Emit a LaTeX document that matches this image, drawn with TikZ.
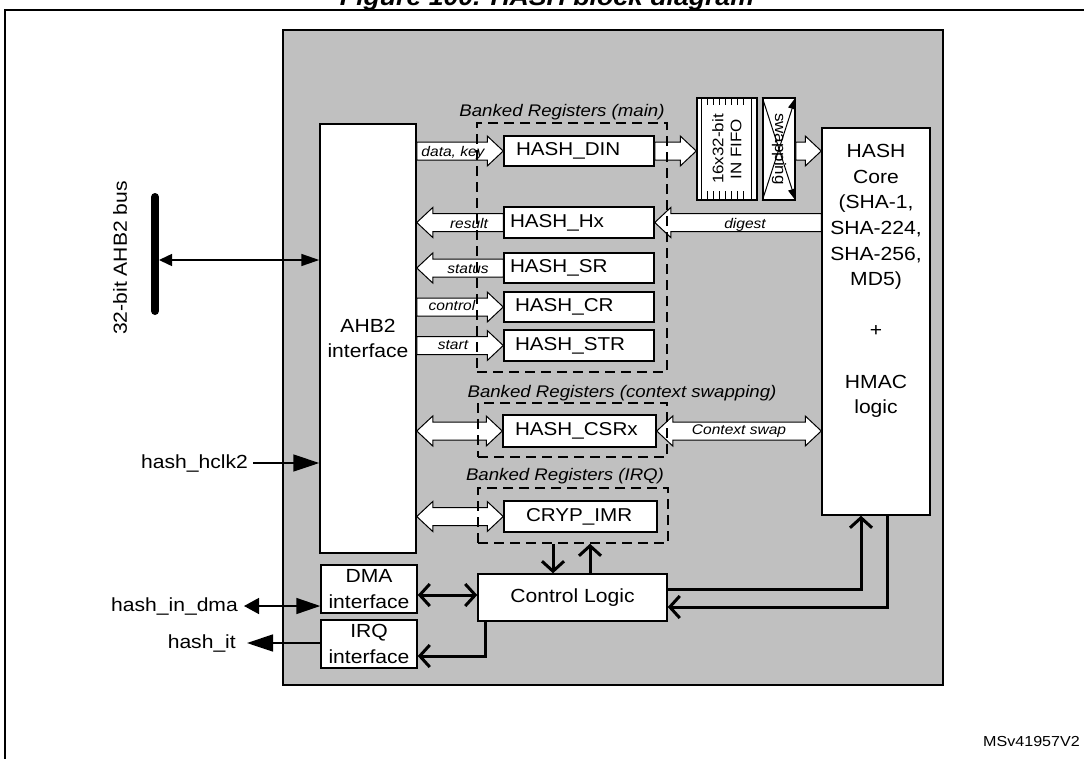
\documentclass[tikz,border=0pt]{standalone}
\usepackage{fontspec}
\setmainfont{Liberation Sans}[FakeStretch=1.11]
\usetikzlibrary{arrows.meta,calc}
\definecolor{bg}{HTML}{C0C0C0}
\newcommand\fMain{\fontsize{19}{25.6}\selectfont}
\newcommand\fReg{\fontsize{18.6}{22}\selectfont}
\newcommand\fBank{\fontsize{16.8}{20}\selectfont\itshape}
\newcommand\fSmall{\fontsize{14}{16}\selectfont\itshape}
\newcommand\fFifo{\fontsize{15.3}{18}\selectfont}
\tikzset{
  every node/.style={inner sep=0pt},
  box/.style={draw, fill=white, line width=1.5pt},
  reg/.style={box, minimum height=30pt, align=left, font=\fReg},
  dbox/.style={draw, dash pattern=on 10pt off 6pt, line width=1.5pt},
  fat/.style={draw, fill=white, line width=1pt},
  thk/.style={line width=3pt},
  barb/.tip={Straight Barb[length=10pt,width=22pt]},
  thin/.style={line width=1.5pt}
}
\newcommand\fatarrow[2]{%
  \draw[fat] let \p1=#1, \p2=#2, \n1={(\x2-\x1)/abs(\x2-\x1)} in
   (\x1,\y1+9pt) -- (\x2-\n1*16pt,\y1+9pt) -- (\x2-\n1*16pt,\y1+15pt) -- (\x2,\y1)
   -- (\x2-\n1*16pt,\y1-15pt) -- (\x2-\n1*16pt,\y1-9pt) -- (\x1,\y1-9pt) -- cycle;}
\newcommand\fatboth[2]{%
  \draw[fat] let \p1=#1, \p2=#2, \n1={(\x2-\x1)/abs(\x2-\x1)} in
   (\x1,\y1) -- (\x1+\n1*16pt,\y1+15pt) -- (\x1+\n1*16pt,\y1+9pt) -- (\x2-\n1*16pt,\y1+9pt)
   -- (\x2-\n1*16pt,\y1+15pt) -- (\x2,\y1) -- (\x2-\n1*16pt,\y1-15pt) -- (\x2-\n1*16pt,\y1-9pt)
   -- (\x1+\n1*16pt,\y1-9pt) -- (\x1+\n1*16pt,\y1-15pt) -- cycle;}
\begin{document}
\begin{tikzpicture}[x=1pt,y=-1pt]
\useasboundingbox (0,0) rectangle (1084,758);
\clip (0,0) rectangle (1084,758);
\node[anchor=base, font=\fontsize{24}{28}\selectfont\bfseries\itshape] (title) at (547,5) {Figure 100. HASH block diagram};
\draw[line width=2pt] (5,780) -- (5,10) -- (1100,10);

\node[draw, fill=bg, line width=2pt, minimum width=660pt, minimum height=655pt] (blk) at (613,357.5) {};

% main blocks
\node[box, minimum width=96pt, minimum height=429pt, align=center, font=\fMain] (ahb) at (368,338.5) {AHB2\\interface};
\node[box, minimum width=96pt, minimum height=48pt, align=center, font=\fMain] (dma) at (369,589) {DMA\\interface};
\node[box, minimum width=96pt, minimum height=48pt, align=center, font=\fMain] (irq) at (369,644) {IRQ\\interface};
\node[box, minimum width=189pt, minimum height=47pt, font=\fMain] (ctrl) at (572.5,597.5) {Control Logic};
\node[box, minimum width=108pt, minimum height=387pt] (core) at (876,321.5) {};
\node[anchor=north, align=center, font=\fMain] (coretext) at ([yshift=-17pt]core.north)
  {HASH\\Core\\(SHA-1,\\SHA-224,\\SHA-256,\\MD5)\\[25.6pt]+\\[25.6pt]HMAC\\logic};

% registers
\node[reg, text width=126pt, inner xsep=12pt] (din) at (579,151) {HASH\_DIN};
\node[reg, text width=138pt, inner xsep=6pt, minimum height=31pt] (hx) at (579,222.5) {HASH\_Hx};
\node[reg, text width=138pt, inner xsep=6pt] (sr) at (579,268) {HASH\_SR};
\node[reg, text width=128pt, inner xsep=11pt] (cr) at (579,307) {HASH\_CR};
\node[reg, text width=128pt, inner xsep=11pt, minimum height=31pt] (str) at (579,345.5) {HASH\_STR};
\node[reg, text width=129pt, inner xsep=12pt, minimum height=32pt] (csrx) at (579.5,431) {HASH\_CSRx};
\node[reg, text width=109pt, inner xsep=22pt, minimum height=31pt] (imr) at (580.5,516.5) {CRYP\_IMR};

% FIFO
\node[box, minimum width=60pt, minimum height=102pt] (fifo) at (727,149) {};
\begin{scope}[shift={(fifo.north west)}, line width=1pt]
  \draw (5,0) -- (5,102) (55,0) -- (55,102);
  \foreach \t in {11,17,23,29,35,41,47} \draw (\t,0) -- (\t,8) (\t,94) -- (\t,102);
\end{scope}
\node[rotate=90, align=center, font=\fFifo] (fifotext) at (fifo) {16x32-bit\\IN FIFO};

% swapping
\node[box, minimum width=32pt, minimum height=102pt] (swap) at (779,149) {};
\draw[line width=1pt, -{Triangle[length=12pt,width=8pt]}] (swap.south west) -- (swap.north east);
\draw[line width=1pt, -{Triangle[length=12pt,width=8pt]}] (swap.north west) -- (swap.south east);
\node[rotate=-90, font=\fFifo] (swaptext) at (swap) {swapping};

% fat arrows
\fatarrow{(ahb.east |- din)}{(din.west)}
\fatarrow{(din.east)}{(fifo.west |- din)}
\fatarrow{(swap.east |- din)}{(core.west |- din)}
\fatarrow{(hx.west)}{(ahb.east |- hx)}
\fatarrow{(core.west |- hx)}{(hx.east)}
\fatarrow{(sr.west)}{(ahb.east |- sr)}
\fatarrow{(ahb.east |- cr)}{(cr.west)}
\fatarrow{(ahb.east |- str)}{(str.west)}
\fatboth{(ahb.east |- csrx)}{(csrx.west)}
\fatboth{(csrx.east)}{(core.west |- csrx)}
\fatboth{(ahb.east |- imr)}{(imr.west)}

% arrow labels
\node[anchor=base, font=\fSmall] (l1) at (453,156) {data, key};
\node[anchor=base, font=\fSmall] (l2) at (469,228) {result};
\node[anchor=base, font=\fSmall] (l3) at (468,273) {status};
\node[anchor=base, font=\fSmall] (l4) at (452,310) {control};
\node[anchor=base, font=\fSmall] (l5) at (453,349) {start};
\node[anchor=base, font=\fSmall] (l6) at (745,228) {digest};
\node[anchor=base, font=\fSmall] (l7) at (739,434) {Context swap};

% banked register groups
\node[dbox, minimum width=190pt, minimum height=249pt] (mainbank) at (572,247.5) {};
\node[dbox, minimum width=189pt, minimum height=54pt] (ctxbank) at (572.5,430) {};
\node[dbox, minimum width=190pt, minimum height=55pt] (irqbank) at (573,515.5) {};
\node[anchor=base, font=\fBank] (b1) at (562,116) {Banked Registers (main)};
\node[anchor=base, font=\fBank] (b2) at (622,397) {Banked Registers (context swapping)};
\node[anchor=base, font=\fBank] (b3) at (565,480) {Banked Registers (IRQ)};

% thick control connectors
\coordinate (d1) at ([yshift=-6pt]dma.east);
\draw[thk, barb-barb] (d1) -- (d1 -| ctrl.west);
\coordinate (c1) at ([xshift=8pt]ctrl.south west);
\coordinate (i1) at ([yshift=-12pt]irq.east);
\draw[thk, -barb] (c1) |- (i1);
\coordinate (c2) at ([yshift=8.5pt]ctrl.east);
\coordinate (k1) at ([xshift=-15pt]core.south);
\draw[thk, -barb] (c2) -| (k1);
\coordinate (k2) at ([xshift=11pt]core.south);
\coordinate (c3) at ([yshift=-9.5pt]ctrl.east);
\draw[thk, -barb] (k2) |- (c3);
\coordinate (q1) at ([xshift=-20pt]irqbank.south);
\draw[thk, -barb] (q1) -- (q1 |- ctrl.north);
\coordinate (q2) at ([xshift=17pt]irqbank.south);
\draw[thk, -barb] (q2 |- ctrl.north) -- (q2);

% bus
\coordinate (bt) at (155,197);
\coordinate (bb) at (155,311);
\coordinate (bm) at (155,260);
\draw[line width=8pt, line cap=round] (bt) -- (bb);
\draw[thin, {Triangle[length=13pt,width=12pt]}-{Triangle[length=18pt,width=12pt]}, shorten <=4pt] (bm) -- (bm -| ahb.west);
\node[rotate=90, font=\fMain] (buslabel) at (120,258) {32-bit AHB2 bus};

% external signals
\node[anchor=east, font=\fMain] (hclk) at (248,463) {hash\_hclk2};
\draw[thin, -{Triangle[length=26pt,width=17pt]}] ([xshift=5pt]hclk.east) -- (hclk.east -| ahb.west);
\node[anchor=east, font=\fMain] (dmal) at (238,606) {hash\_in\_dma};
\draw[thin, {Triangle[length=15pt,width=16pt]}-{Triangle[length=24pt,width=16pt]}] ([xshift=6pt]dmal.east) -- (dmal.east -| dma.west);
\node[anchor=east, font=\fMain] (itl) at (236,643) {hash\_it};
\draw[thin, -{Triangle[length=26pt,width=17pt]}] (itl.east -| irq.west) -- ([xshift=11pt]itl.east);

\node[anchor=base east, font=\fontsize{14.5}{16}\selectfont] (ref) at (1080,746) {MSv41957V2};
\end{tikzpicture}
\end{document}
